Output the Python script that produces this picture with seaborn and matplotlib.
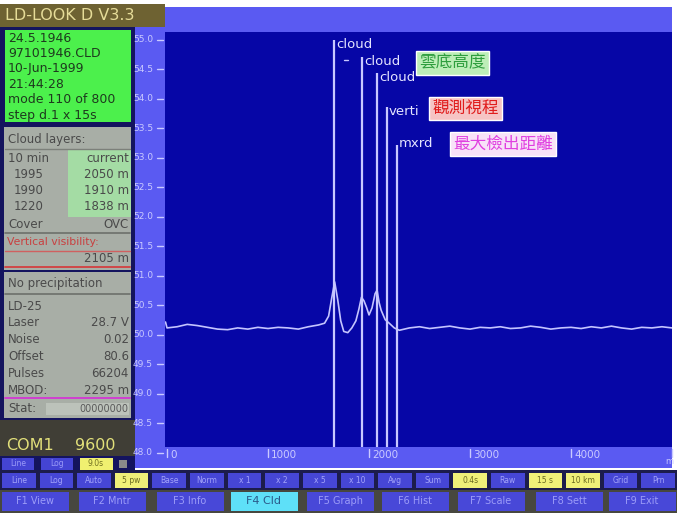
import numpy as np
import pandas as pd
import seaborn as sns
import matplotlib
matplotlib.use("Agg")
import matplotlib.pyplot as plt
from matplotlib.patches import Rectangle
from matplotlib.transforms import blended_transform_factory

# ---- backscatter profile (distance in m, signal level) ----
dist_m = [-15, 0, 100, 200, 300, 400, 500, 600, 700, 800, 900, 1000, 1100, 1200,
          1300, 1400, 1500, 1560, 1600, 1630, 1660, 1690, 1720, 1750, 1790, 1830,
          1870, 1900, 1925, 1950, 1975, 2000, 2030, 2060, 2080, 2100, 2120, 2160,
          2200, 2250, 2300, 2400, 2500, 2600, 2700, 2800, 2900, 3000, 3100, 3200,
          3300, 3400, 3500, 3600, 3700, 3800, 3900, 4000, 4100, 4200, 4300, 4400,
          4500, 4600, 4700, 4800, 4900, 5000]
signal = [50.22, 50.12, 50.14, 50.18, 50.16, 50.13, 50.10, 50.09, 50.12, 50.10,
          50.13, 50.11, 50.13, 50.12, 50.10, 50.14, 50.17, 50.20, 50.32, 50.62,
          50.90, 50.60, 50.24, 50.06, 50.04, 50.12, 50.24, 50.44, 50.64, 50.58,
          50.47, 50.34, 50.46, 50.70, 50.76, 50.55, 50.42, 50.26, 50.20, 50.12,
          50.08, 50.12, 50.14, 50.11, 50.13, 50.15, 50.12, 50.10, 50.13, 50.12,
          50.14, 50.11, 50.12, 50.15, 50.13, 50.10, 50.12, 50.13, 50.11, 50.14,
          50.12, 50.15, 50.12, 50.10, 50.13, 50.12, 50.14, 50.12]

# ---- detected layer markers ----
marker_names = ["cloud", "cloud", "cloud", "verti", "mxrd"]
marker_dist = [1653, 1928, 2082, 2175, 2274]
marker_top = [55.0, 54.71, 54.44, 53.86, 53.22]

# ---- axis ticks ----
y_ticks = [55.0, 54.5, 54.0, 53.5, 53.0, 52.5, 52.0, 51.5, 51.0, 50.5, 50.0,
           49.5, 49.0, 48.5, 48.0]
y_tick_labels = ["55.0", "54.5", "54.0", "53.5", "53.0", "52.5", "52.0", "51.5",
                 "51.0", "50.5", "50.0", "49.5", "49.0", "48.5", "48.0"]
x_ticks = [0, 1000, 2000, 3000, 4000, 5000]
x_tick_labels = ["0", "1000", "2000", "3000", "4000", ""]

# ---- status panel texts ----
file_info = ["24.5.1946", "97101946.CLD", "10-Jun-1999", "21:44:28",
             "mode 110 of 800", "step d.1 x 15s"]
layers_10min = ["1995", "1990", "1220"]
layers_current = ["2050 m", "1910 m", "1838 m"]
sensor_names = ["Laser", "Noise", "Offset", "Pulses"]
sensor_values = ["28.7 V", "0.02", "80.6", "66204"]
row1_labels = ["Line", "Log", "Auto", "5 pw", "Base", "Norm", "x 1", "x 2", "x 5",
               "x 10", "Avg", "Sum", "0.4s", "Raw", "15 s", "10 km", "Grid", "Prn"]
fkey_labels = ["F1 View", "F2 Mntr", "F3 Info", "F4 Cld", "F5 Graph",
               "F6 Hist", "F7 Scale", "F8 Sett", "F9 Exit"]

W, H = 677, 516
sns.set_style("white")
plt.rcParams["font.family"] = ["DejaVu Sans", "Noto Sans CJK TC"]
fig = plt.figure(figsize=(W / 100, H / 100), dpi=100)
fig.patch.set_facecolor("white")

# pixel-coordinate canvas for the window chrome
bg = fig.add_axes([0, 0, 1, 1], zorder=0)
bg.set_xlim(0, W)
bg.set_ylim(H, 0)
bg.axis("off")


def rect(x0, y0, x1, y1, fc, ec="none", lw=0, z=1):
    bg.add_patch(Rectangle((x0, y0), x1 - x0, y1 - y0, facecolor=fc,
                           edgecolor=ec, linewidth=lw, zorder=z))


def txt(x, y, s, color, size=8.5, ha="left", weight="normal", z=3):
    bg.text(x, y, s, color=color, fontsize=size, ha=ha, va="center",
            fontweight=weight, zorder=z)


LIGHT = "#5a5af2"
NAVY = "#14145e"

# window frame
rect(0, 24, 135, 472, NAVY)
rect(0, 4, 165, 27, "#6e6232")
txt(5, 16, "LD-LOOK D V3.3", "#e6dc98", size=11.5)
rect(165, 7, 672, 32, LIGHT)
rect(135, 27, 165, 468, LIGHT)
rect(135, 447, 672, 468, LIGHT)

# file info panel
rect(5, 30, 131, 122, "#4cf04c")
for i, s in enumerate(file_info):
    txt(8, 38 + i * 15.4, s, "#1e3a1e", size=9)

# cloud layer panel
rect(4, 127, 131, 270, "#a8aea6")
rect(68, 150, 131, 217, "#a4dca4", z=1.5)
txt(8, 140, "Cloud layers:", "#4a4a4a", size=8.5)
bg.plot([5, 130], [149, 149], color="#7c807a", lw=1, zorder=2)
txt(8, 158, "10 min", "#4a4a4a", size=8.5)
txt(129, 158, "current", "#4a4a4a", size=8.5, ha="right")
for i in range(3):
    txt(14, 174 + i * 16, layers_10min[i], "#4a4a4a", size=8.5)
    txt(129, 174 + i * 16, layers_current[i], "#4a4a4a", size=8.5, ha="right")
txt(8, 224, "Cover", "#4a4a4a", size=8.5)
txt(129, 224, "OVC", "#4a4a4a", size=8.5, ha="right")
bg.plot([5, 130], [233, 233], color="#6c706a", lw=1.2, zorder=2)
txt(7, 242, "Vertical visibility:", "#c84040", size=7.8)
bg.plot([5, 130], [251, 251], color="#d06060", lw=1, zorder=2)
txt(129, 259, "2105 m", "#4a4a4a", size=8.5, ha="right")
bg.plot([5, 130], [267, 267], color="#d04848", lw=1.4, zorder=2)

# sensor status panel
rect(4, 272, 131, 418, "#a8aea6")
txt(8, 284, "No precipitation", "#4a4a4a", size=8.5)
bg.plot([5, 130], [294, 294], color="#6c706a", lw=1.2, zorder=2)
txt(8, 306, "LD-25", "#4a4a4a", size=8.5)
for i in range(4):
    txt(8, 323 + i * 16.8, sensor_names[i], "#4a4a4a", size=8.5)
    txt(129, 323 + i * 16.8, sensor_values[i], "#4a4a4a", size=8.5, ha="right")
txt(8, 390, "MBOD:", "#4a4a4a", size=8.5)
txt(129, 390, "2295 m", "#4a4a4a", size=8.5, ha="right")
bg.plot([5, 130], [398, 398], color="#d040d0", lw=1.4, zorder=2)
txt(8, 409, "Stat:", "#4a4a4a", size=8.5)
rect(46, 403, 129, 415, "#bcc2ba", z=1.5)
txt(128, 409, "00000000", "#5a5a5a", size=7, ha="right")

# port + small toggles
rect(0, 420, 135, 456, "#403e36")
txt(6, 446, "COM1", "#e2e07a", size=11.5)
txt(75, 446, "9600", "#e2e07a", size=11.5)
rect(2, 458, 34, 470, "#4444d4")
txt(18, 464, "Line", "#9a9af8", size=5.5, ha="center")
rect(41, 458, 73, 470, "#4444d4")
txt(57, 464, "Log", "#9a9af8", size=5.5, ha="center")
rect(80, 458, 113, 470, "#f0f070")
txt(96, 464, "9.0s", "#707020", size=5.5, ha="center")
rect(119, 460, 127, 468, "#8a8a8a")
txt(669, 462, "m", "#c8c8ff", size=6, ha="center")

# button row 1
rect(0, 470, W, 490, "#1c1c4c")
bw = W / 18
yellow = {3, 12, 14, 15}
for i, lab in enumerate(row1_labels):
    x0 = i * bw + 2
    fc = "#f0f078" if i in yellow else "#4646d6"
    tc = "#6a6a20" if i in yellow else "#a4a4fa"
    rect(x0, 473, x0 + bw - 4, 488, fc)
    txt(x0 + (bw - 4) / 2, 480.5, lab, tc, size=5.5, ha="center")

# function keys
rect(0, 490, W, 513, "#47473f")
fx = [2, 79, 157, 231, 307, 382, 458, 536, 609]
for i, lab in enumerate(fkey_labels):
    if i == 3:
        rect(fx[i], 492, fx[i] + 67, 511, "#5ee0f8")
        txt(fx[i] + 33, 501.5, lab, "#2a5a8a", size=8, ha="center")
    else:
        rect(fx[i], 492, fx[i] + 67, 511, "#4848d8")
        txt(fx[i] + 33, 501.5, lab, "#9c9cf8", size=7, ha="center")

# ---- profile plot ----
left, right, top, bottom = 165, 672, 32, 447
ax = fig.add_axes([left / W, (H - bottom) / H, (right - left) / W, (bottom - top) / H],
                  zorder=2)
ax.set_facecolor("#0606a6")
ylo = 48.0 + (453 - bottom) / 59.0
yhi = 48.0 + (453 - top) / 59.0
ax.set_xlim(-20, 5000)
ax.set_ylim(ylo, yhi)

df = pd.DataFrame({"dist": dist_m, "level": signal})
sns.lineplot(data=df, x="dist", y="level", ax=ax, color="#c4c4ff", lw=1.2,
             sort=True, estimator=None)

label_dy = [-0.08, -0.08, -0.08, -0.08, 0.03]
for name, d, t, dy in zip(marker_names, marker_dist, marker_top, label_dy):
    ax.vlines(d, ylo, t, color="#c8c8ff", lw=1.6)
    ax.text(d + 22, t + dy, name, color="#e4e4ff", fontsize=9.5, va="center",
            ha="left")
ax.plot([1750, 1790], [54.66, 54.66], color="#c8c8ff", lw=1)

# labelled annotation boxes
box_kw = dict(family=["Noto Sans CJK TC"], fontsize=12, va="center", ha="left")
ax.text(2500, 54.61, "雲底高度", color="#2e9e3e",
        bbox=dict(boxstyle="square,pad=0.2", fc="#bdeeb8", ec="white", lw=1),
        **box_kw)
ax.text(2630, 53.84, "觀測視程", color="#e01c1c",
        bbox=dict(boxstyle="square,pad=0.2", fc="#f6c4c4", ec="white", lw=1),
        **box_kw)
ax.text(2830, 53.24, "最大檢出距離", color="#e040e0",
        bbox=dict(boxstyle="square,pad=0.2", fc="#f8e2f8", ec="white", lw=1),
        **box_kw)

# axis labels drawn on the light strips
ax.set_xticks([])
ax.set_yticks([])
ax.set_xlabel("")
ax.set_ylabel("")
for sp in ax.spines.values():
    sp.set_visible(False)

ty = blended_transform_factory(ax.transAxes, ax.transData)
for v, lab in zip(y_ticks, y_tick_labels):
    ax.text(-12 / (right - left), v, lab, transform=ty, color="#cacaff",
            fontsize=6.5, ha="right", va="center", clip_on=False)
    ax.plot([-8 / (right - left), -2 / (right - left)], [v, v], transform=ty,
            color="#cacaff", lw=1, clip_on=False)

tx = blended_transform_factory(ax.transData, ax.transAxes)
for v, lab in zip(x_ticks, x_tick_labels):
    ax.plot([v, v], [-2 / (bottom - top), -10 / (bottom - top)], transform=tx,
            color="#cacaff", lw=1, clip_on=False)
    ax.text(v + 30, -8 / (bottom - top), lab, transform=tx, color="#cacaff",
            fontsize=7.5, ha="left", va="center", clip_on=False)

fig.savefig("out.png", dpi=100, facecolor="white")
